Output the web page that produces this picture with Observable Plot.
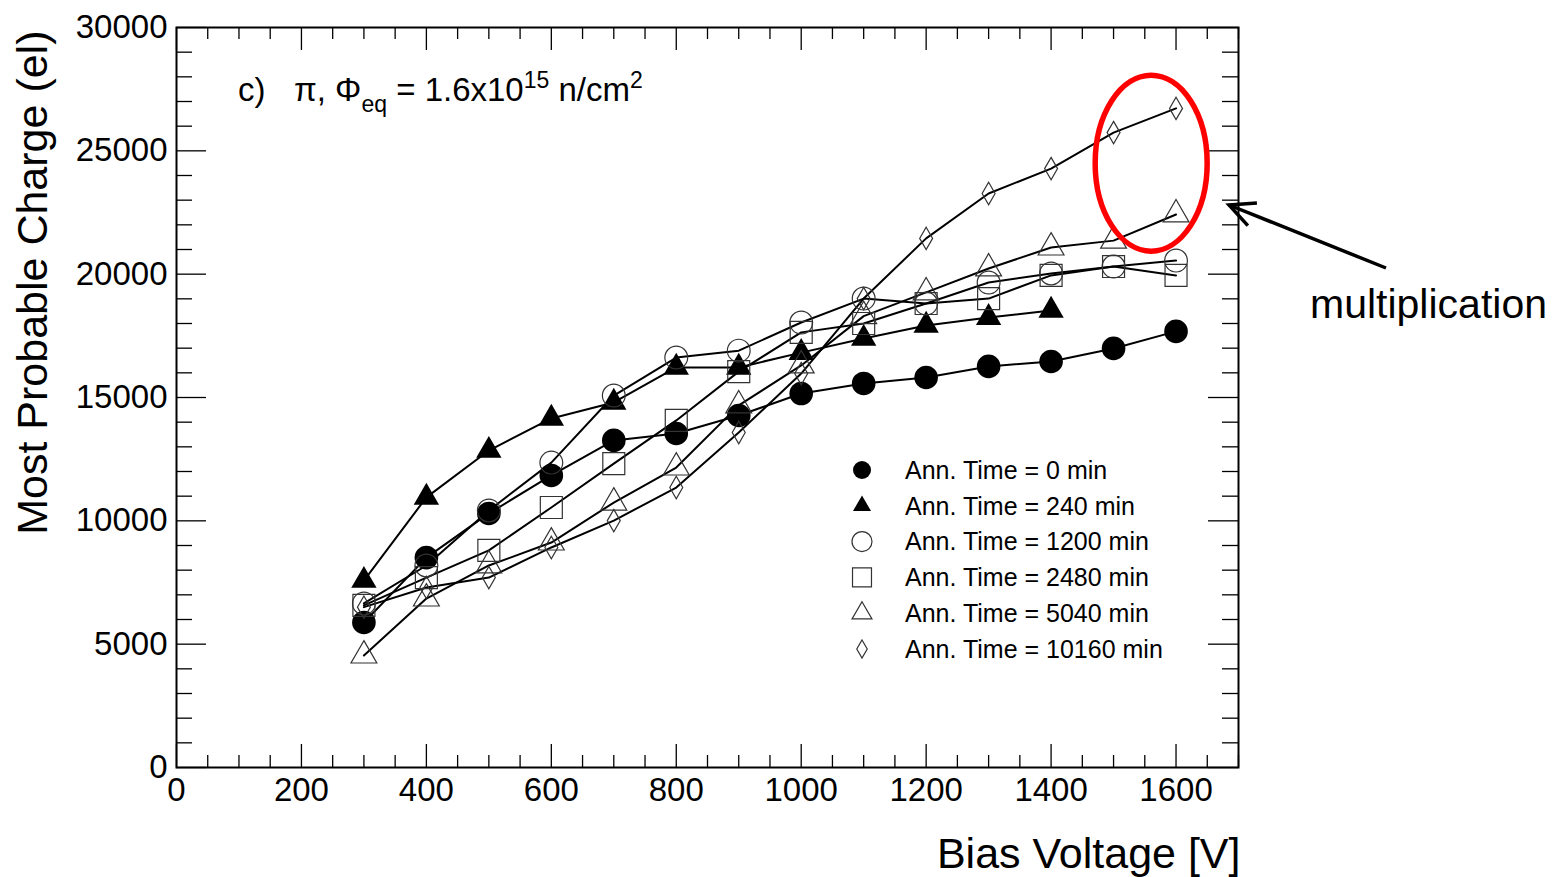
<!DOCTYPE html>
<html><head><meta charset="utf-8">
<script src="https://cdn.jsdelivr.net/npm/d3@7"></script>
<script src="https://cdn.jsdelivr.net/npm/@observablehq/plot@0.6"></script>
<style>
html,body{margin:0;padding:0;background:#fff;}
#chart{position:relative;width:1552px;height:877px;}
</style></head><body><div id="chart"></div>
<script>
// ---- data ----
const voltages = [300,400,500,600,700,800,900,1000,1100,1200,1300,1400,1500,1600];
const t0     = [5880,8510,10300,11840,13260,13540,14270,15160,15570,15810,16260,16460,16990,17680];
const t240   = [7580,10950,12850,14150,14800,16220,16220,16820,17390,17920,18240,18530,null,null];
const t1200  = [6650,8190,10420,12360,15080,16620,16900,18040,19010,18810,19660,20030,20310,20550];
const t2480  = [6570,7700,8800,10540,12320,14070,16050,17640,18000,18810,19010,19950,20310,19950];
const t5040  = [4540,6850,8190,9120,10740,12160,14680,16300,18300,19260,20230,21080,21360,22420];
const t10160 = [6500,7300,7700,8920,10010,11350,13580,15970,19010,21450,23270,24280,25740,26720];
const seriesLabels = ["Ann. Time = 0 min","Ann. Time = 240 min","Ann. Time = 1200 min","Ann. Time = 2480 min","Ann. Time = 5040 min","Ann. Time = 10160 min"];
const xTicks = [0,200,400,600,800,1000,1200,1400,1600];
const yTicks = [0,5000,10000,15000,20000,25000,30000];
const xLabel = "Bias Voltage [V]";
const yLabel = "Most Probable Charge (el)";
const noteLabel = "multiplication";

const FONT = "Liberation Sans, Arial, Helvetica, sans-serif";
const styles = [
  {symbol:"circle",   fill:"black", stroke:"none", r:11.8, lr:9},
  {symbol:"triangle", fill:"black", stroke:"none", r:9.4,  lr:6.7},
  {symbol:"circle",   fill:"none",  stroke:"#333", r:11.4, lr:10},
  {symbol:"square",   fill:"none",  stroke:"#333", r:12.4, lr:10.7},
  {symbol:"triangle", fill:"none",  stroke:"#333", r:9.6,  lr:7.4},
  {symbol:"diamond",  fill:"none",  stroke:"#333", r:6.8,  lr:5.5}
];
const allValues = [t0,t240,t1200,t2480,t5040,t10160];
const rows = allValues.flatMap((vals, s) => voltages.map((v, i) => ({v, q: vals[i], s})).filter(d => d.q != null));

const xMinor = d3.range(0, 1701, 50).filter(d => d % 200 !== 0);
const yMinor = d3.range(0, 30001, 1000).filter(d => d % 5000 !== 0);
const PW = 1062, PH = 740;

const marks = [
  Plot.line(rows, {x:"v", y:"q", z:"s", stroke:"black", strokeWidth:2}),
  ...styles.map((st, s) => Plot.dot(rows.filter(d => d.s === s), {
    x:"v", y:"q", symbol: st.symbol, r: st.r, fill: st.fill, stroke: st.stroke, strokeWidth: 1.2
  })),
  // inward ticks on all four sides
  Plot.tickX(xTicks, {x: d => d, stroke:"black", strokeWidth:1.3, insetTop: PH - 23}),
  Plot.tickX(xMinor, {x: d => d, stroke:"black", strokeWidth:1.3, insetTop: PH - 12}),
  Plot.tickX(xTicks, {x: d => d, stroke:"black", strokeWidth:1.3, insetBottom: PH - 23}),
  Plot.tickX(xMinor, {x: d => d, stroke:"black", strokeWidth:1.3, insetBottom: PH - 12}),
  Plot.tickY(yTicks, {y: d => d, stroke:"black", strokeWidth:1.3, insetRight: PW - 30}),
  Plot.tickY(yMinor, {y: d => d, stroke:"black", strokeWidth:1.3, insetRight: PW - 16}),
  Plot.tickY(yTicks, {y: d => d, stroke:"black", strokeWidth:1.3, insetLeft: PW - 30}),
  Plot.tickY(yMinor, {y: d => d, stroke:"black", strokeWidth:1.3, insetLeft: PW - 16}),
  Plot.frame({stroke:"black", strokeWidth:2}),
  Plot.axisX({ticks: xTicks, tickSize:0, tickPadding:10, fontSize:33, label:null, tickFormat: d => `${d}`}),
  Plot.axisY({ticks: yTicks, tickSize:0, tickPadding:9, fontSize:33, label:null, tickFormat: d => `${d}`}),
  Plot.text([xLabel], {text: d => d, frameAnchor:"bottom-right", textAnchor:"end", lineAnchor:"bottom", dx:2, dy:100, fontSize:43}),
  Plot.text([yLabel], {text: d => d, frameAnchor:"top-left", rotate:-90, textAnchor:"end", dx:-160, dy:3, fontSize:43})
];

const svg = Plot.plot({
  width:1552, height:877,
  marginLeft:176, marginRight:314, marginTop:27, marginBottom:110,
  style:{fontFamily: FONT, background:"white", color:"black", overflow:"visible"},
  x:{domain:[0,1700], axis:null},
  y:{domain:[0,30000], axis:null},
  marks
});
document.getElementById("chart").appendChild(svg);

const sx = svg.scale("x"), sy = svg.scale("y");
const g = d3.select(svg).append("g").attr("font-family", FONT).attr("fill", "black").attr("text-anchor", "start");

// plot annotation: c) π, Φeq = 1.6x10^15 n/cm^2
const t = g.append("text").attr("x", 238).attr("y", 101).attr("font-size", 33);
t.append("tspan").text("c)");
t.append("tspan").attr("x", 294).text("π, Φ");
t.append("tspan").attr("dy", 11).attr("font-size", 23).text("eq");
t.append("tspan").attr("dy", -11).text(" = 1.6x10");
t.append("tspan").attr("dy", -13).attr("font-size", 23).text("15");
t.append("tspan").attr("dy", 13).text(" n/cm");
t.append("tspan").attr("dy", -13).attr("font-size", 23).text("2");

// legend
const symMap = {circle: d3.symbolCircle, triangle: d3.symbolTriangle, square: d3.symbolSquare, diamond: d3.symbolDiamond};
const lx = 862, ly0 = 470, lstep = 35.8;
styles.forEach((st, i) => {
  const y = ly0 + i * lstep;
  g.append("path")
    .attr("d", d3.symbol(symMap[st.symbol], Math.PI * st.lr * st.lr)())
    .attr("transform", `translate(${lx},${y})`)
    .attr("fill", st.fill).attr("stroke", st.stroke === "none" ? null : st.stroke).attr("stroke-width", 1.2);
  g.append("text").attr("x", 905).attr("y", y).attr("dy", "0.35em").attr("font-size", 25).text(seriesLabels[i]);
});

// red ellipse around the highest-voltage points
g.append("ellipse")
  .attr("cx", sx.apply(1561)).attr("cy", sy.apply(24480))
  .attr("rx", 56).attr("ry", 88)
  .attr("fill", "none").attr("stroke", "#ff0000").attr("stroke-width", 5.5);

// arrow and label
const tip = [1229, 205], tail = [1386, 268];
const ang = Math.atan2(tail[1] - tip[1], tail[0] - tip[0]);
const hl = 28, ha = 0.45;
g.append("line").attr("x1", tail[0]).attr("y1", tail[1]).attr("x2", tip[0]).attr("y2", tip[1])
  .attr("stroke", "black").attr("stroke-width", 3.5);
g.append("path")
  .attr("d", `M${tip[0] + hl*Math.cos(ang+ha)},${tip[1] + hl*Math.sin(ang+ha)}L${tip[0]},${tip[1]}L${tip[0] + hl*Math.cos(ang-ha)},${tip[1] + hl*Math.sin(ang-ha)}`)
  .attr("fill", "none").attr("stroke", "black").attr("stroke-width", 3.5);
g.append("text").attr("x", 1310).attr("y", 318).attr("font-size", 41).text(noteLabel);
</script></body></html>
